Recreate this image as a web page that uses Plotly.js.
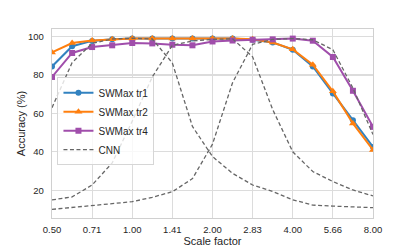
<!DOCTYPE html>
<html>
<head>
<meta charset="utf-8">
<script src="https://cdn.plot.ly/plotly-3.0.1.min.js"></script>
<style>html,body{margin:0;padding:0;background:#fff;}#chart{width:415px;height:249px;}</style>
</head>
<body>
<div id="chart"></div>
<script>
// scale factors (2^(k/4))
const scales = [0.5, 0.595, 0.707, 0.841, 1.0, 1.189, 1.414, 1.682, 2.0, 2.378, 2.828, 3.364, 4.0, 4.757, 5.657, 6.727, 8.0];
const swmaxTr1 = [84.5, 95.0, 97.8, 98.6, 99.0, 99.0, 99.0, 99.0, 99.0, 99.0, 98.4, 97.0, 93.2, 84.5, 70.4, 56.5, 42.5];
const swmaxTr2 = [91.8, 96.7, 98.0, 98.6, 99.0, 99.0, 99.0, 99.0, 99.0, 99.0, 98.6, 97.0, 93.4, 85.4, 71.5, 54.8, 41.0];
const swmaxTr4 = [79.0, 91.5, 94.6, 95.5, 96.7, 96.5, 95.8, 95.5, 97.5, 98.0, 98.4, 98.6, 99.0, 97.9, 89.4, 71.8, 53.0];
const cnnS1 = [63.0, 86.5, 96.5, 98.8, 99.2, 98.8, 86.3, 53.2, 37.5, 28.8, 22.7, 19.3, 15.0, 12.2, 11.7, 11.3, 10.9];
const cnnS2 = [14.9, 16.5, 22.7, 34.2, 56.0, 79.0, 95.5, 97.8, 98.6, 98.9, 89.5, 62.0, 40.0, 29.7, 24.5, 20.1, 17.0];
const cnnS4 = [10.0, 11.0, 11.8, 12.8, 14.0, 16.3, 19.2, 26.0, 44.0, 76.0, 96.0, 98.6, 99.0, 98.4, 93.2, 73.2, 49.0];
const tickVals = [0.5, 0.7071, 1.0, 1.4142, 2.0, 2.8284, 4.0, 5.6569, 8.0];
const tickText = ['0.50', '0.71', '1.00', '1.41', '2.00', '2.83', '4.00', '5.66', '8.00'];

const font = 'Liberation Sans, Arial, sans-serif';
const cnnLine = {color: '#666666', width: 1.3, dash: '4px,2.5px'};

const traces = [
  {x: scales, y: swmaxTr1, name: 'SWMax tr1', mode: 'lines+markers',
   line: {color: '#3282c0', width: 2}, marker: {symbol: 'circle', size: 6, color: '#3282c0'}},
  {x: scales, y: swmaxTr2, name: 'SWMax tr2', mode: 'lines+markers',
   line: {color: '#ff7f0e', width: 2}, marker: {symbol: 'triangle-up', size: 7, color: '#ff7f0e'}},
  {x: scales, y: swmaxTr4, name: 'SWMax tr4', mode: 'lines+markers',
   line: {color: '#a04eab', width: 2}, marker: {symbol: 'square', size: 6, color: '#a04eab'}},
  {x: scales, y: cnnS1, name: 'CNN', mode: 'lines', line: cnnLine, showlegend: true, legendgroup: 'cnn'},
  {x: scales, y: cnnS2, name: 'CNN', mode: 'lines', line: cnnLine, showlegend: false, legendgroup: 'cnn'},
  {x: scales, y: cnnS4, name: 'CNN', mode: 'lines', line: cnnLine, showlegend: false, legendgroup: 'cnn'}
];

const layout = {
  width: 415, height: 249,
  margin: {l: 52, r: 42, t: 29, b: 31, pad: 0},
  paper_bgcolor: '#ffffff', plot_bgcolor: '#ffffff',
  font: {family: font, size: 9.5, color: '#262626'},
  showlegend: true,
  legend: {x: 0.017, y: 0.745, xanchor: 'left', yanchor: 'top',
    bgcolor: 'rgba(255,255,255,0.8)', bordercolor: '#d6d6d6', borderwidth: 1,
    font: {family: font, size: 10, color: '#262626'}, tracegroupgap: 0, itemwidth: 30},
  xaxis: {type: 'log', range: [Math.log10(0.5), Math.log10(8)],
    tickvals: tickVals, ticktext: tickText,
    showgrid: true, gridcolor: '#dcdcdc', gridwidth: 1.2,
    zeroline: false, showline: true, linecolor: '#d0d0d0', linewidth: 1.2, mirror: true,
    ticks: 'outside', ticklen: 2, tickcolor: 'rgba(0,0,0,0)',
    tickfont: {family: font, size: 9.5, color: '#262626'},
    title: {text: 'Scale factor', font: {family: font, size: 11, color: '#262626'}, standoff: 2}},
  yaxis: {range: [5.5, 104], tickvals: [20, 40, 60, 80, 100],
    showgrid: true, gridcolor: '#dcdcdc', gridwidth: 1.2,
    zeroline: false, showline: true, linecolor: '#d0d0d0', linewidth: 1.2, mirror: true,
    ticks: 'outside', ticklen: 5, tickcolor: 'rgba(0,0,0,0)',
    tickfont: {family: font, size: 9.5, color: '#262626'},
    title: {text: 'Accuracy (%)', font: {family: font, size: 11, color: '#262626'}, standoff: 0}}
};

Plotly.newPlot('chart', traces, layout, {staticPlot: true, displayModeBar: false});
</script>
</body>
</html>
